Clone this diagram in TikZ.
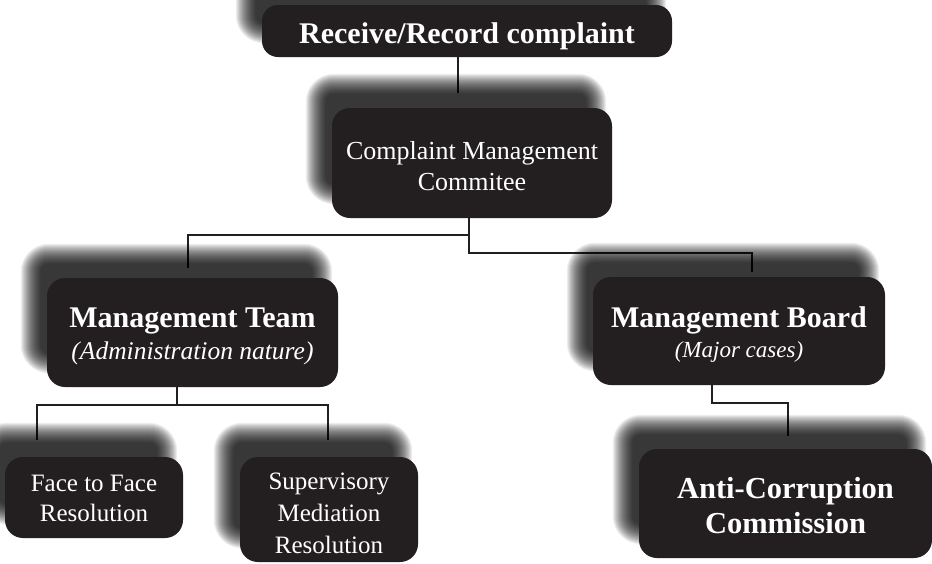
\documentclass[tikz,border=0pt]{standalone}
\usepackage{fontspec}
\setmainfont{Liberation Serif}
\usetikzlibrary{calc}
\definecolor{boxfill}{HTML}{231F20}
\pgfdeclarelayer{bglayer}
\pgfdeclarelayer{linelayer}
\pgfdeclarelayer{shadowlayer}
\pgfsetlayers{bglayer,linelayer,shadowlayer,main}
\newcommand{\softshadow}[1]{%
  \begin{pgfonlayer}{shadowlayer}
  \foreach \d [evaluate=\d as \r using {max(2,18+\d)}] in {-10,-9,...,10}{
    \fill[black,opacity=0.065,rounded corners=\r pt]
      ($(#1.north west)+(-16-\d,-24-\d)$) rectangle ($(#1.south east)+(-16+\d,-24+\d)$);
  }
  \end{pgfonlayer}}
\newcommand{\lowr}[1]{\rule{0pt}{#1pt}}
\begin{document}
\begin{tikzpicture}[x=1pt,y=-1pt,
  box/.style={fill=boxfill, text=white, rounded corners=18pt, align=center, inner sep=0pt},
  conn/.style={line width=2pt, draw=boxfill}]
\begin{pgfonlayer}{bglayer}
\fill[white] (0,0) rectangle (932,563);
\end{pgfonlayer}
\useasboundingbox (0,0) rectangle (932,563);

% boxes
\node[box,minimum width=410pt,minimum height=52pt,rounded corners=16pt,
  font=\fontsize{30}{34}\selectfont\bfseries] (b1) at (467,31) {\lowr{30.5}Receive/Record complaint};
\node[box,minimum width=280pt,minimum height=110pt,font=\fontsize{26}{31}\selectfont] (b2) at (472,163)
  {\lowr{24}Complaint Management\\Commitee};
\node[box,minimum width=291pt,minimum height=109pt,font=\fontsize{25.5}{32}\selectfont] (mt) at (192.5,332.5)
  {{\fontsize{30}{32}\selectfont\bfseries \lowr{28}Management Team}\\{\itshape (Administration nature)}};
\node[box,minimum width=292pt,minimum height=108pt,font=\fontsize{23}{30}\selectfont] (mb) at (739,331)
  {{\fontsize{30}{30}\selectfont\bfseries \lowr{28.5}Management Board}\\{\itshape (Major cases)}};
\node[box,minimum width=178pt,minimum height=81pt,font=\fontsize{25}{30}\selectfont] (ff) at (94,497.5)
  {\lowr{18.5}Face to Face\\Resolution};
\node[box,minimum width=178pt,minimum height=105pt,font=\fontsize{25}{32}\selectfont] (sm) at (329,509.5)
  {\lowr{25}Supervisory\\Mediation\\Resolution};
\node[box,minimum width=293pt,minimum height=109pt,font=\fontsize{30.5}{35}\selectfont\bfseries] (acc) at (785.5,503.5)
  {\lowr{25}Anti-Corruption\\Commission};

% shadows
\softshadow{b1}
\softshadow{b2}
\softshadow{mt}
\softshadow{mb}
\softshadow{ff}
\softshadow{sm}
\softshadow{acc}

% connector coordinates
\coordinate (t2) at (458,93);
\coordinate (j1) at (469,235);
\coordinate (j2) at (469,253);
\coordinate (tmt) at (188,268);
\coordinate (tmb) at (752,272);
\coordinate (j3) at (177,405);
\coordinate (tff) at (37,440);
\coordinate (tsm) at (328,440);
\coordinate (j4) at (712,403);
\coordinate (tacc) at (788,436);

\begin{pgfonlayer}{linelayer}
\draw[conn] (b1.south -| t2) -- (t2);
\draw[conn] (b2.south -| j1) -- (j2) -| (tmb);
\draw[conn] (j1) -| (tmt);
\draw[conn] (mt.south -| j3) -- (j3);
\draw[conn] (tff) |- (j3) -| (tsm);
\draw[conn] (mb.south -| j4) -- (j4) -| (tacc);
\end{pgfonlayer}
\end{tikzpicture}
\end{document}
